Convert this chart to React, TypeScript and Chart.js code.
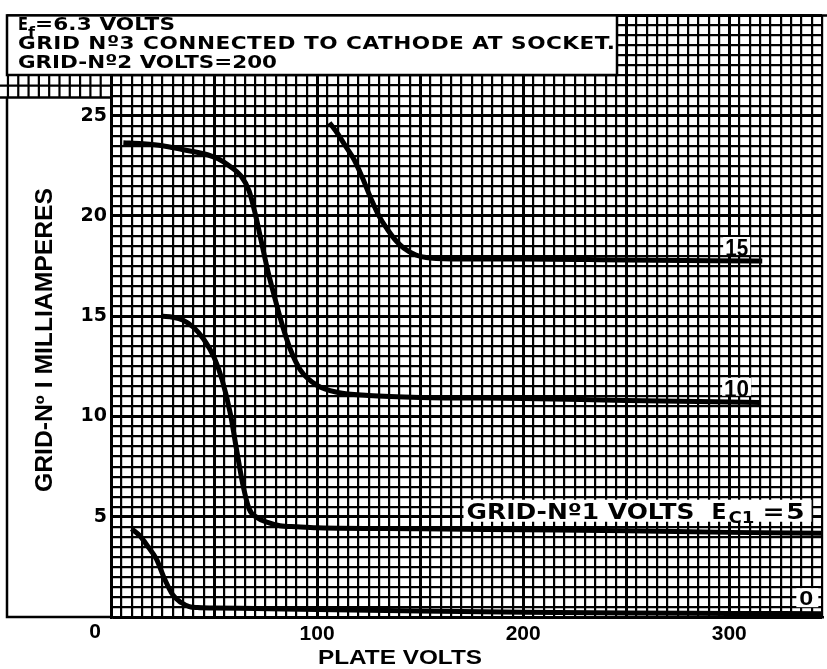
import React, { useEffect, useRef } from 'react';
import { Chart, registerables } from 'chart.js';

Chart.register(...registerables);

// Plate volts / grid-No.1 milliamperes, one pair of arrays per curve (Ec1 = 0, 5, 10, 15)
const ec0Volts = [10, 14, 18, 22, 26, 30, 34, 38, 42, 50, 70, 100, 150, 200, 250, 300, 345];
const ec0Ma = [4.4, 4.05, 3.5, 2.9, 1.9, 1.1, 0.72, 0.52, 0.47, 0.45, 0.42, 0.37, 0.3, 0.24, 0.2, 0.18, 0.16];

const ec5Volts = [25, 30, 35, 40, 45, 50, 54, 58, 61, 64, 67, 71, 76, 82, 90, 100, 150, 200, 250, 300, 345];
const ec5Ma = [15.0, 14.95, 14.8, 14.45, 13.85, 12.95, 11.8, 10.1, 8.3, 6.6, 5.4, 4.95, 4.72, 4.55, 4.5, 4.45, 4.4, 4.35, 4.3, 4.22, 4.18];

const ec10Volts = [6, 15, 25, 35, 45, 52, 58, 63, 67, 70, 73, 76, 79, 83, 87, 92, 100, 110, 125, 150, 200, 250, 315];
const ec10Ma = [23.65, 23.6, 23.5, 23.3, 23.1, 22.85, 22.45, 22.0, 21.25, 20.1, 18.7, 17.3, 16.1, 14.6, 13.35, 12.3, 11.55, 11.2, 11.05, 10.95, 10.9, 10.8, 10.7];

const ec15Volts = [106, 110, 114, 118, 122, 126, 130, 134, 138, 142, 148, 155, 170, 200, 250, 316];
const ec15Ma = [24.65, 24.1, 23.45, 22.8, 21.9, 20.9, 20.0, 19.35, 18.8, 18.4, 18.05, 17.9, 17.85, 17.85, 17.8, 17.75];

const xTickLabels = [100, 200, 300];
const yTickLabels = [5, 10, 15, 20, 25];

const titleLine1Main = 'E';
const titleLine1Sub = 'f';
const titleLine1Rest = '=6.3 VOLTS';
const titleLine2 = 'GRID Nº3 CONNECTED TO CATHODE AT SOCKET.';
const titleLine3 = 'GRID-Nº2 VOLTS=200';
const yTitle = 'GRID-Nº I MILLIAMPERES';
const xTitle = 'PLATE VOLTS';
const label15 = '15';
const label10 = '10';
const label5Main = 'GRID-Nº1 VOLTS';
const label5E = 'E';
const label5Sub = 'C1';
const label5Rest = '=5';
const label0 = '0';

const DEJAVU = '"DejaVu Sans", sans-serif';
const LIB = '"Liberation Sans", Arial, sans-serif';

function fitText(ctx: CanvasRenderingContext2D, text: string, x: number, y: number, w: number, maxStretch = 1.2) {
  (ctx as any).letterSpacing = '0px';
  const prevAlign = ctx.textAlign;
  ctx.textAlign = 'left';
  const m = ctx.measureText(text).width;
  const n = Array.from(text).length;
  let s = w / m;
  let sp = 0;
  if (s > maxStretch) {
    s = maxStretch;
    sp = n > 1 ? (w / s - m) / (n - 1) : 0;
  }
  ctx.save();
  ctx.translate(x, y);
  ctx.scale(s, 1);
  (ctx as any).letterSpacing = sp + 'px';
  ctx.fillText(text, 0, 0);
  ctx.restore();
  (ctx as any).letterSpacing = '0px';
  ctx.textAlign = prevAlign;
}

function toPoints(xs: number[], ys: number[]) {
  return xs.map((v, i) => ({ x: v, y: ys[i] }));
}

const paperPlugin = {
  id: 'paper',
  afterDraw(chart: any) {
    const { ctx, scales } = chart;
    const xs = scales.x;
    const ys = scales.y;
    const left = chart.chartArea.left;
    const bottom = chart.chartArea.bottom;
    const top = chart.chartArea.top;
    ctx.save();
    ctx.strokeStyle = '#000';
    ctx.fillStyle = '#000';

    // strip of graph paper left of the plot, below the title box
    const stripTop = 75;
    const stripBottom = ys.getPixelForValue(25.9);
    ctx.lineWidth = 2.2;
    for (const v of [26.5]) {
      const py = ys.getPixelForValue(v);
      ctx.beginPath();
      ctx.moveTo(0, py);
      ctx.lineTo(left, py);
      ctx.stroke();
    }
    for (let k = 1; k <= 11; k++) {
      const px = xs.getPixelForValue(-5 * k);
      if (px < 0) break;
      ctx.beginPath();
      ctx.moveTo(px, stripTop);
      ctx.lineTo(px, stripBottom);
      ctx.stroke();
    }

    // left panel frame
    ctx.lineWidth = 2.5;
    ctx.beginPath();
    ctx.moveTo(0, stripBottom);
    ctx.lineTo(left, stripBottom);
    ctx.stroke();
    ctx.beginPath();
    ctx.moveTo(7, stripBottom);
    ctx.lineTo(7, bottom);
    ctx.lineTo(left, bottom);
    ctx.stroke();

    // top border
    ctx.beginPath();
    ctx.moveTo(7, top);
    ctx.lineTo(chart.width, top);
    ctx.stroke();

    // title box
    ctx.fillStyle = '#fff';
    ctx.fillRect(7, top, 610, stripTop - top);
    ctx.strokeRect(7, top, 610, stripTop - top);
    ctx.fillStyle = '#000';
    ctx.textBaseline = 'alphabetic';
    ctx.textAlign = 'left';
    ctx.font = `bold 18px ${DEJAVU}`;
    fitText(ctx, titleLine1Main, 18, 30, 10);
    ctx.font = `bold 14px ${DEJAVU}`;
    fitText(ctx, titleLine1Sub, 28, 37, 7);
    ctx.font = `bold 18px ${DEJAVU}`;
    fitText(ctx, titleLine1Rest, 35, 30, 140);
    fitText(ctx, titleLine2, 18, 49, 597);
    fitText(ctx, titleLine3, 18, 68, 259);

    // y axis title
    ctx.save();
    ctx.translate(46, 340);
    ctx.rotate(-Math.PI / 2);
    ctx.textBaseline = 'middle';
    ctx.font = `bold 23px ${LIB}`;
    fitText(ctx, yTitle, -152, 0, 304);
    ctx.restore();

    // x axis title and corner 0
    ctx.font = `bold 21px ${LIB}`;
    ctx.textBaseline = 'middle';
    fitText(ctx, xTitle, 318, 658, 164);
    ctx.font = `bold 21px ${LIB}`;
    ctx.textAlign = 'center';
    ctx.fillText('0', 95, 632);

    // curve labels with white backgrounds
    ctx.textBaseline = 'alphabetic';
    const labelBox = (x: number, y: number, w: number, h: number) => {
      ctx.fillStyle = '#fff';
      ctx.fillRect(x, y, w, h);
      ctx.fillStyle = '#000';
    };
    ctx.font = `bold 24px ${LIB}`;
    // 15
    let px = xs.getPixelForValue(298);
    let py = ys.getPixelForValue(18.0);
    labelBox(px - 2, py - 19, 27, 18);
    fitText(ctx, label15, px, py, 23);
    // 10
    px = xs.getPixelForValue(297.5);
    py = ys.getPixelForValue(10.98);
    labelBox(px - 2, py - 19, 29, 18);
    fitText(ctx, label10, px, py, 25);
    // Ec1 = 5 label
    px = xs.getPixelForValue(172.5);
    py = ys.getPixelForValue(4.9);
    labelBox(px - 3, py - 19, 348, 22);
    ctx.font = `bold 22px ${DEJAVU}`;
    fitText(ctx, label5Main, px, py, 228);
    fitText(ctx, label5E, px + 245, py, 15);
    ctx.font = `bold 16px ${DEJAVU}`;
    fitText(ctx, label5Sub, px + 262, py + 4, 26);
    ctx.font = `bold 22px ${DEJAVU}`;
    fitText(ctx, label5Rest, px + 296, py, 42);
    // 0
    ctx.font = `bold 21px ${LIB}`;
    px = xs.getPixelForValue(334);
    py = ys.getPixelForValue(0.59);
    labelBox(px - 3, py - 17, 22, 19);
    fitText(ctx, label0, px, py, 16);

    ctx.restore();
  },
};

export default function App() {
  const ref = useRef<HTMLCanvasElement | null>(null);
  useEffect(() => {
    if (!ref.current) return;
    const lineStyle = {
      borderColor: '#000',
      borderWidth: 5,
      pointRadius: 0,
      fill: false,
      cubicInterpolationMode: 'monotone' as const,
      borderCapStyle: 'butt' as const,
    };
    const chart = new Chart(ref.current, {
      type: 'line',
      data: {
        datasets: [
          { label: 'Ec1=0', data: toPoints(ec0Volts, ec0Ma), ...lineStyle },
          { label: 'Ec1=5', data: toPoints(ec5Volts, ec5Ma), ...lineStyle },
          { label: 'Ec1=10', data: toPoints(ec10Volts, ec10Ma), ...lineStyle },
          { label: 'Ec1=15', data: toPoints(ec15Volts, ec15Ma), ...lineStyle },
        ],
      },
      options: {
        responsive: false,
        animation: false,
        devicePixelRatio: 1,
        layout: { padding: { left: 0, right: 0, top: 5, bottom: 0 } },
        plugins: { legend: { display: false }, tooltip: { enabled: false }, title: { display: false } },
        scales: {
          x: {
            type: 'linear',
            min: 0,
            max: 345,
            afterFit: (s: any) => { s.height = 52; },
            border: { display: true, color: '#000', width: 2.5 },
            grid: {
              color: '#000',
              drawTicks: false,
              lineWidth: (c: any) => (c.tick && Math.abs(c.tick.value % 50) < 1e-6 ? 3 : 2.2),
            },
            ticks: {
              stepSize: 5,
              autoSkip: false,
              maxRotation: 0,
              padding: 5,
              color: '#000',
              font: { family: LIB, size: 21, weight: 'bold' },
              callback: (v: any) => (xTickLabels.includes(Number(v)) ? String(v) : ''),
            },
          },
          y: {
            type: 'linear',
            min: 0,
            max: 30,
            afterFit: (s: any) => { s.width = 111; },
            border: { display: true, color: '#000', width: 2.5 },
            grid: {
              color: '#000',
              drawTicks: false,
              lineWidth: (c: any) => (c.tick && Math.abs(c.tick.value % 5) < 1e-6 ? 3 : 2.2),
            },
            ticks: {
              stepSize: 0.5,
              autoSkip: false,
              padding: 4,
              color: '#000',
              font: { family: DEJAVU, size: 19, weight: 'bold' },
              callback: (v: any) => (yTickLabels.includes(Number(v)) ? String(v) : ''),
            },
          },
        },
      },
      plugins: [paperPlugin],
    });
    return () => chart.destroy();
  }, []);

  return (
    <div style={{ position: 'absolute', left: 0, top: 0, width: 827, height: 669, background: '#fff' }}>
      <canvas ref={ref} width={827} height={669} style={{ width: 827, height: 669 }} />
    </div>
  );
}
